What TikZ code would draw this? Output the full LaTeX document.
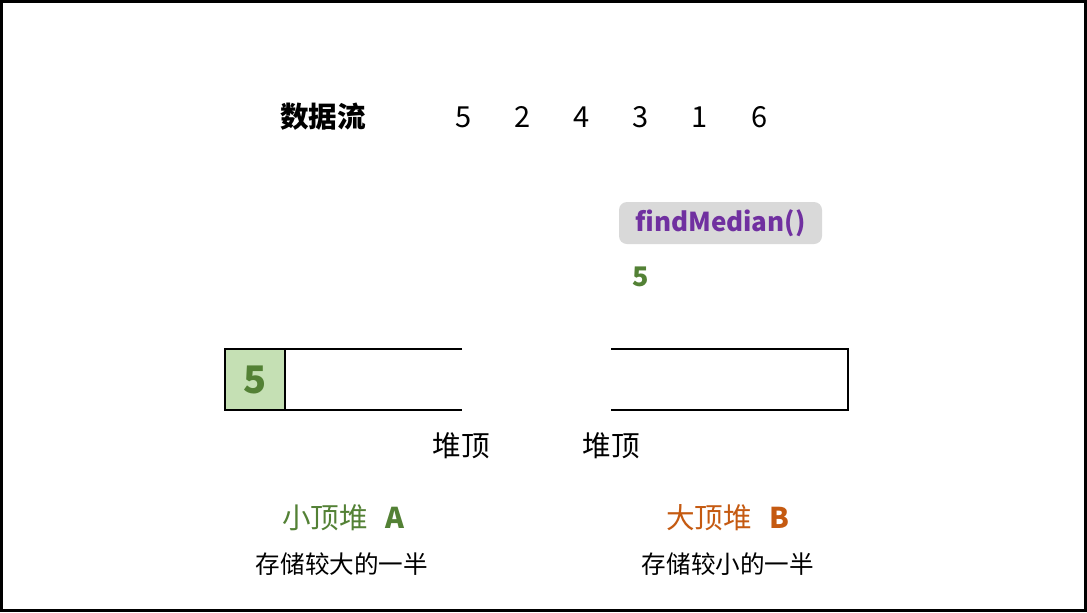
\documentclass[tikz,border=0pt]{standalone}
\usepackage{fontspec}
\setmainfont{Noto Sans CJK SC}
\definecolor{heapgreen}{RGB}{83, 129, 53}
\definecolor{cellgreen}{RGB}{197, 224, 180}
\definecolor{heaporange}{RGB}{197, 90, 17}
\definecolor{callpurple}{RGB}{112, 48, 160}
\definecolor{callgray}{RGB}{217, 217, 217}
\usetikzlibrary{positioning, calc}

\begin{document}
\begin{tikzpicture}[x=0.5pt, y=-0.5pt,
  label/.style={font=\fontsize{14.3}{16}\selectfont, inner sep=0pt},
  note/.style={font=\fontsize{12.3}{14}\selectfont, inner sep=0pt},
  heapline/.style={line width=1pt}]
  % frame
  \draw[line width=1.5pt, fill=white] (1.5, 1.5) rectangle (1085.5, 610.5);
  \useasboundingbox (0, 0) rectangle (1087, 612);

  % Data stream
  \node[label, font=\fontsize{14.3}{16}\selectfont\bfseries] (title) at (323, 117) {数据流};
  \foreach \v [count=\i] in {5, 2, 4, 3, 1, 6} {
    \node[label, font=\fontsize{14.5}{16}\selectfont] (d\i) at (404 + 59.2*\i, 117) {\v};
  }

  % findMedian call
  \node[fill=callgray, rounded corners=4pt, minimum width=101.5pt, minimum height=21pt,
        inner sep=0pt, text=callpurple, font=\fontsize{13}{15}\selectfont\bfseries] (call) at (720.5, 223) {findMedian()};
  \node[label, text=heapgreen, font=\fontsize{13.5}{15}\selectfont\bfseries] (median) at (641, 277) {5};

  % Min heap A (left)
  \node[fill=cellgreen, draw, heapline, minimum width=30pt, minimum height=30.5pt, inner sep=0pt, outer sep=0pt,
        text=heapgreen, font=\fontsize{19}{21}\selectfont\bfseries] (a1) at (255, 379.5) {5};
  \coordinate (atop) at (462, 349);
  \coordinate (abot) at (462, 410);
  \draw[heapline] (atop) -- (a1.north east) (a1.south east) -- (abot);

  % Max heap B (right)
  \coordinate (btop) at (611, 349);
  \coordinate (bbot) at (611, 410);
  \draw[heapline] (btop) -- (848, 349) -- (848, 410) -- (bbot);

  % heap tops
  \node[label] (topa) at (461, 446) {堆顶};
  \node[label] (topb) at (611, 446) {堆顶};

  % captions
  \node[label, text=heapgreen] (namea) at (325, 518) {小顶堆};
  \node[label, text=heapgreen, font=\fontsize{14.3}{16}\selectfont\bfseries] (lettera) at (395, 518) {A};
  \node[note] (notea) at (342, 564) {存储较大的一半};
  \node[label, text=heaporange] (nameb) at (709, 518) {大顶堆};
  \node[label, text=heaporange, font=\fontsize{14.3}{16}\selectfont\bfseries] (letterb) at (779, 518) {B};
  \node[note] (noteb) at (728, 564) {存储较小的一半};
\end{tikzpicture}
\end{document}
